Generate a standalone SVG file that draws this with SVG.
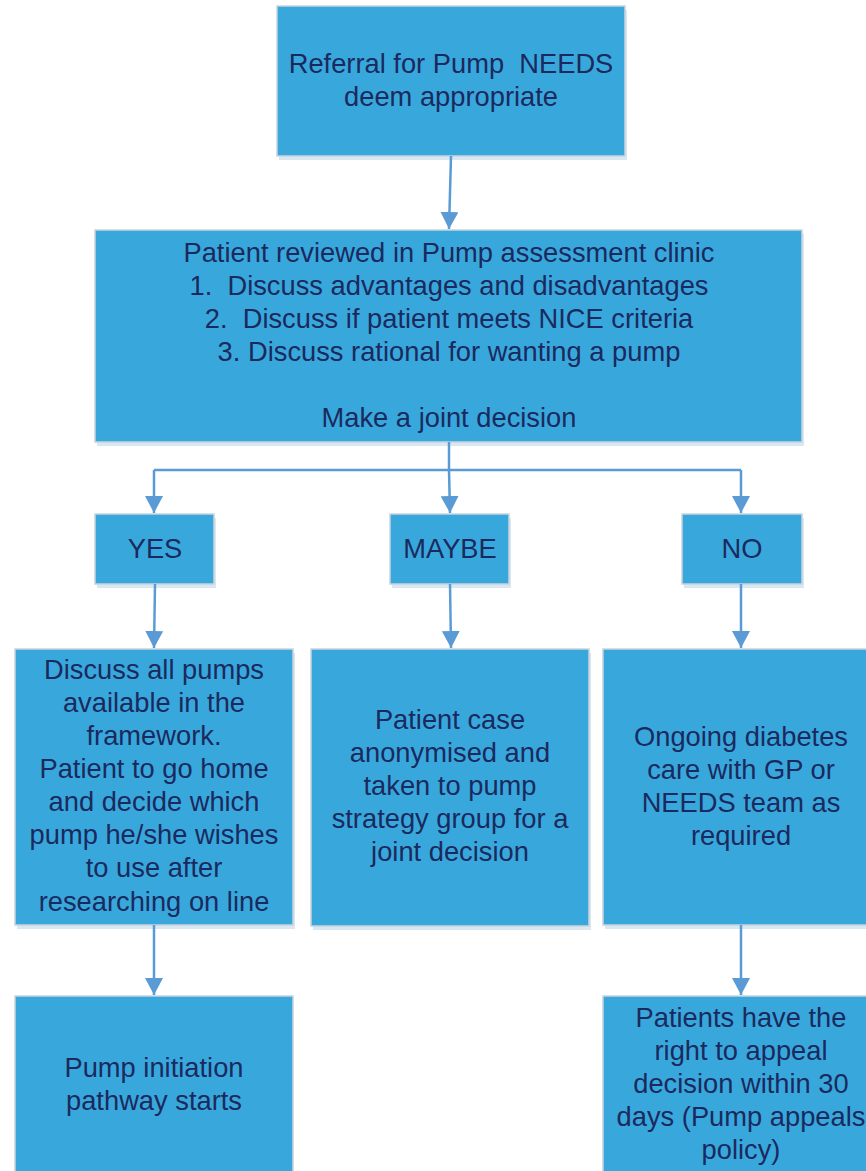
<svg xmlns="http://www.w3.org/2000/svg" width="866" height="1171" viewBox="0 0 866 1171">
<defs>
<style>
.sh{fill:#D9E7F3}
.bx{fill:#38A8DC;stroke:#C9D3DC;stroke-width:1.5}
.t{font-family:"Liberation Sans",Arial,sans-serif;font-size:27.3px;fill:#1B2A5E;text-anchor:middle;white-space:pre}
.c{fill:none;stroke:#5B9BD5;stroke-width:2.5}
</style>
<marker id="ah" viewBox="0 0 17 18" refX="17" refY="9" markerWidth="17" markerHeight="18" markerUnits="userSpaceOnUse" orient="auto">
<path d="M0,0 L17,9 L0,18 Z" fill="#5B9BD5"/>
</marker>
</defs>
<rect width="866" height="1171" fill="#FFFFFF"/>
<g id="n1">
<rect class="sh" x="279" y="10" width="348" height="150"/>
<rect class="bx" x="277" y="6" width="348" height="150"/>
<text class="t" x="451" y="73" xml:space="preserve">Referral for Pump  NEEDS</text>
<text class="t" x="451" y="106">deem appropriate</text>
</g>
<g id="n2">
<rect class="sh" x="97" y="234" width="707" height="212"/>
<rect class="bx" x="95" y="230" width="707" height="212"/>
<text class="t" x="449" y="262">Patient reviewed in Pump assessment clinic</text>
<text class="t" x="449" y="295" xml:space="preserve">1.  Discuss advantages and disadvantages</text>
<text class="t" x="449" y="328" xml:space="preserve">2.  Discuss if patient meets NICE criteria</text>
<text class="t" x="449" y="361">3. Discuss rational for wanting a pump</text>
<text class="t" x="449" y="427">Make a joint decision</text>
</g>
<g id="yes">
<rect class="sh" x="97" y="518" width="119" height="70"/>
<rect class="bx" x="95" y="514" width="119" height="70"/>
<text class="t" x="155" y="558">YES</text>
</g>
<g id="maybe">
<rect class="sh" x="392" y="518" width="119" height="70"/>
<rect class="bx" x="390" y="514" width="119" height="70"/>
<text class="t" x="450" y="558">MAYBE</text>
</g>
<g id="no">
<rect class="sh" x="684" y="518" width="120" height="70"/>
<rect class="bx" x="682" y="514" width="120" height="70"/>
<text class="t" x="742" y="558">NO</text>
</g>
<g id="discuss">
<rect class="sh" x="17" y="653" width="278" height="276"/>
<rect class="bx" x="15" y="649" width="278" height="276"/>
<text class="t" x="154" y="679">Discuss all pumps</text>
<text class="t" x="154" y="712">available in the</text>
<text class="t" x="154" y="745">framework.</text>
<text class="t" x="154" y="778">Patient to go home</text>
<text class="t" x="154" y="811">and decide which</text>
<text class="t" x="154" y="844">pump he/she wishes</text>
<text class="t" x="154" y="877">to use after</text>
<text class="t" x="154" y="911">researching on line</text>
</g>
<g id="anon">
<rect class="sh" x="313" y="653" width="278" height="277"/>
<rect class="bx" x="311" y="649" width="278" height="277"/>
<text class="t" x="450" y="729">Patient case</text>
<text class="t" x="450" y="762">anonymised and</text>
<text class="t" x="450" y="795">taken to pump</text>
<text class="t" x="450" y="828">strategy group for a</text>
<text class="t" x="450" y="861">joint decision</text>
</g>
<g id="ongoing">
<rect class="sh" x="605" y="653" width="276" height="276"/>
<rect class="bx" x="603" y="649" width="276" height="276"/>
<text class="t" x="741" y="746">Ongoing diabetes</text>
<text class="t" x="741" y="779">care with GP or</text>
<text class="t" x="741" y="812">NEEDS team as</text>
<text class="t" x="741" y="845">required</text>
</g>
<g id="initiation">
<rect class="bx" x="15" y="996" width="278" height="180"/>
<text class="t" x="154" y="1077">Pump initiation</text>
<text class="t" x="154" y="1110">pathway starts</text>
</g>
<g id="appeal">
<rect class="bx" x="603" y="996" width="276" height="180"/>
<text class="t" x="741" y="1027">Patients have the</text>
<text class="t" x="741" y="1060">right to appeal</text>
<text class="t" x="741" y="1093">decision within 30</text>
<text class="t" x="741" y="1126">days (Pump appeals</text>
<text class="t" x="741" y="1159">policy)</text>
</g>
<g id="connectors">
<path class="c" d="M451,156 L449,229" marker-end="url(#ah)"/>
<path class="c" d="M449,442 L449,470"/>
<path class="c" d="M154,470 L741,470"/>
<path class="c" d="M154,470 L154,513" marker-end="url(#ah)"/>
<path class="c" d="M449,470 L450,513" marker-end="url(#ah)"/>
<path class="c" d="M741,470 L741,513" marker-end="url(#ah)"/>
<path class="c" d="M155,584 L154,648" marker-end="url(#ah)"/>
<path class="c" d="M450,584 L451,648" marker-end="url(#ah)"/>
<path class="c" d="M741,584 L741,648" marker-end="url(#ah)"/>
<path class="c" d="M154,925 L154,995" marker-end="url(#ah)"/>
<path class="c" d="M741,925 L741,995" marker-end="url(#ah)"/>
</g>
</svg>
